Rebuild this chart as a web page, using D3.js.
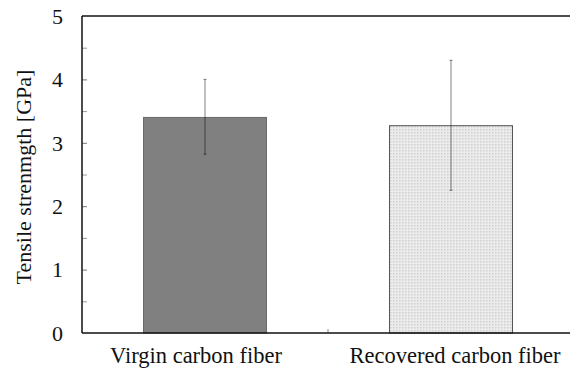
<!DOCTYPE html>
<html>
<head>
<meta charset="utf-8">
<script src="https://cdn.jsdelivr.net/npm/d3@7/dist/d3.min.js"></script>
<style>
  html, body { margin: 0; padding: 0; background: #fff; }
  svg { display: block; }
  text { font-family: "Liberation Serif", "Times New Roman", serif; fill: #111; }
</style>
</head>
<body>
<svg id="chart" width="570" height="379"></svg>
<script>
// Tensile strength of carbon fibers (mean with error range)
const categories = ["Virgin carbon fiber", "Recovered carbon fiber"];
const strength   = [3.40, 3.27];
const errUpper   = [4.00, 4.30];
const errLower   = [2.82, 2.25];
const yTicks     = [0, 1, 2, 3, 4, 5];
const yMinorTicks = [0.5, 1.5, 2.5, 3.5, 4.5];
const yLabel     = "Tensile strenmgth [GPa]";

const svg = d3.select("#chart");
const margin = { left: 82, top: 16, right: -4, bottom: 46 };
const W = 570, H = 379;
const x0 = margin.left, x1 = W - margin.right;
const yTop = margin.top, yBot = H - margin.bottom;

const x = d3.scaleBand().domain(categories).range([x0, x1])
  .paddingInner(0.5).paddingOuter(0.25);
const y = d3.scaleLinear().domain([0, 5]).range([yBot, yTop]);

// dotted fill for the recovered fiber bar
const defs = svg.append("defs");
const pat = defs.append("pattern").attr("id", "dots")
  .attr("patternUnits", "userSpaceOnUse").attr("width", 3).attr("height", 3);
pat.append("rect").attr("width", 3).attr("height", 3).attr("fill", "#ececec");
pat.append("rect").attr("x", 0).attr("y", 0).attr("width", 1.5).attr("height", 1.5).attr("fill", "#cfcfcf");

const fills = ["#808080", "url(#dots)"];
const strokes = ["#6a6a6a", "#555"];

// bars
svg.append("g").selectAll("rect").data(categories).join("rect")
  .attr("x", d => x(d))
  .attr("y", (d, i) => y(strength[i]))
  .attr("width", x.bandwidth())
  .attr("height", (d, i) => y(0) - y(strength[i]))
  .attr("fill", (d, i) => fills[i])
  .attr("stroke", (d, i) => strokes[i])
  .attr("stroke-width", 1);

// error bars (translucent so they read on both light and dark fills)
const eb = svg.append("g").attr("stroke", "rgba(0,0,0,0.42)").attr("stroke-width", 1.2);
categories.forEach((c, i) => {
  const cx = x(c) + x.bandwidth() / 2;
  eb.append("line").attr("x1", cx).attr("x2", cx)
    .attr("y1", y(errUpper[i])).attr("y2", y(errLower[i]));
  [errUpper[i], errLower[i]].forEach(v => {
    eb.append("line").attr("x1", cx - 1.5).attr("x2", cx + 1.5)
      .attr("y1", y(v)).attr("y2", y(v));
  });
});

// y axis: inward ticks
const yAxis = svg.append("g").attr("transform", `translate(${x0},0)`)
  .call(d3.axisRight(y).tickValues(yTicks.filter(v => v > 0 && v < 5)).tickSize(5).tickFormat(""));
yAxis.select(".domain").remove();
yAxis.selectAll(".tick line").attr("stroke", "#777");
const yMinor = svg.append("g").attr("transform", `translate(${x0},0)`)
  .call(d3.axisRight(y).tickValues(yMinorTicks).tickSize(5).tickFormat(""));
yMinor.select(".domain").remove();
yMinor.selectAll(".tick line").attr("stroke", "#999");

// y tick labels
svg.append("g").selectAll("text").data(yTicks).join("text")
  .attr("x", 63).attr("y", d => y(d))
  .attr("dy", "0.35em")
  .attr("text-anchor", "end")
  .attr("font-size", 22)
  .text(d => d);

// inward tick between categories on the x axis
const mid = (x(categories[0]) + x.bandwidth() + x(categories[1])) / 2;
svg.append("line").attr("x1", mid).attr("x2", mid)
  .attr("y1", yBot).attr("y2", yBot - 4).attr("stroke", "#888");

// frame lines: left, bottom, top
const frame = svg.append("g").attr("stroke", "#111").attr("stroke-width", 1.5).attr("fill", "none");
frame.append("line").attr("x1", x0).attr("x2", x0).attr("y1", yTop).attr("y2", yBot);
frame.append("line").attr("x1", x0).attr("x2", x1).attr("y1", yBot).attr("y2", yBot);
frame.append("line").attr("x1", x0).attr("x2", x1).attr("y1", yTop).attr("y2", yTop);

// category labels
const labelShift = [-9, 4];
svg.append("g").selectAll("text").data(categories).join("text")
  .attr("x", (d, i) => x(d) + x.bandwidth() / 2 + labelShift[i])
  .attr("y", 363)
  .attr("text-anchor", "middle")
  .attr("font-size", 22.5)
  .text(d => d);

// y axis title
svg.append("text")
  .attr("transform", `translate(31,177) rotate(-90)`)
  .attr("text-anchor", "middle")
  .attr("font-size", 22)
  .text(yLabel);
</script>
</body>
</html>
